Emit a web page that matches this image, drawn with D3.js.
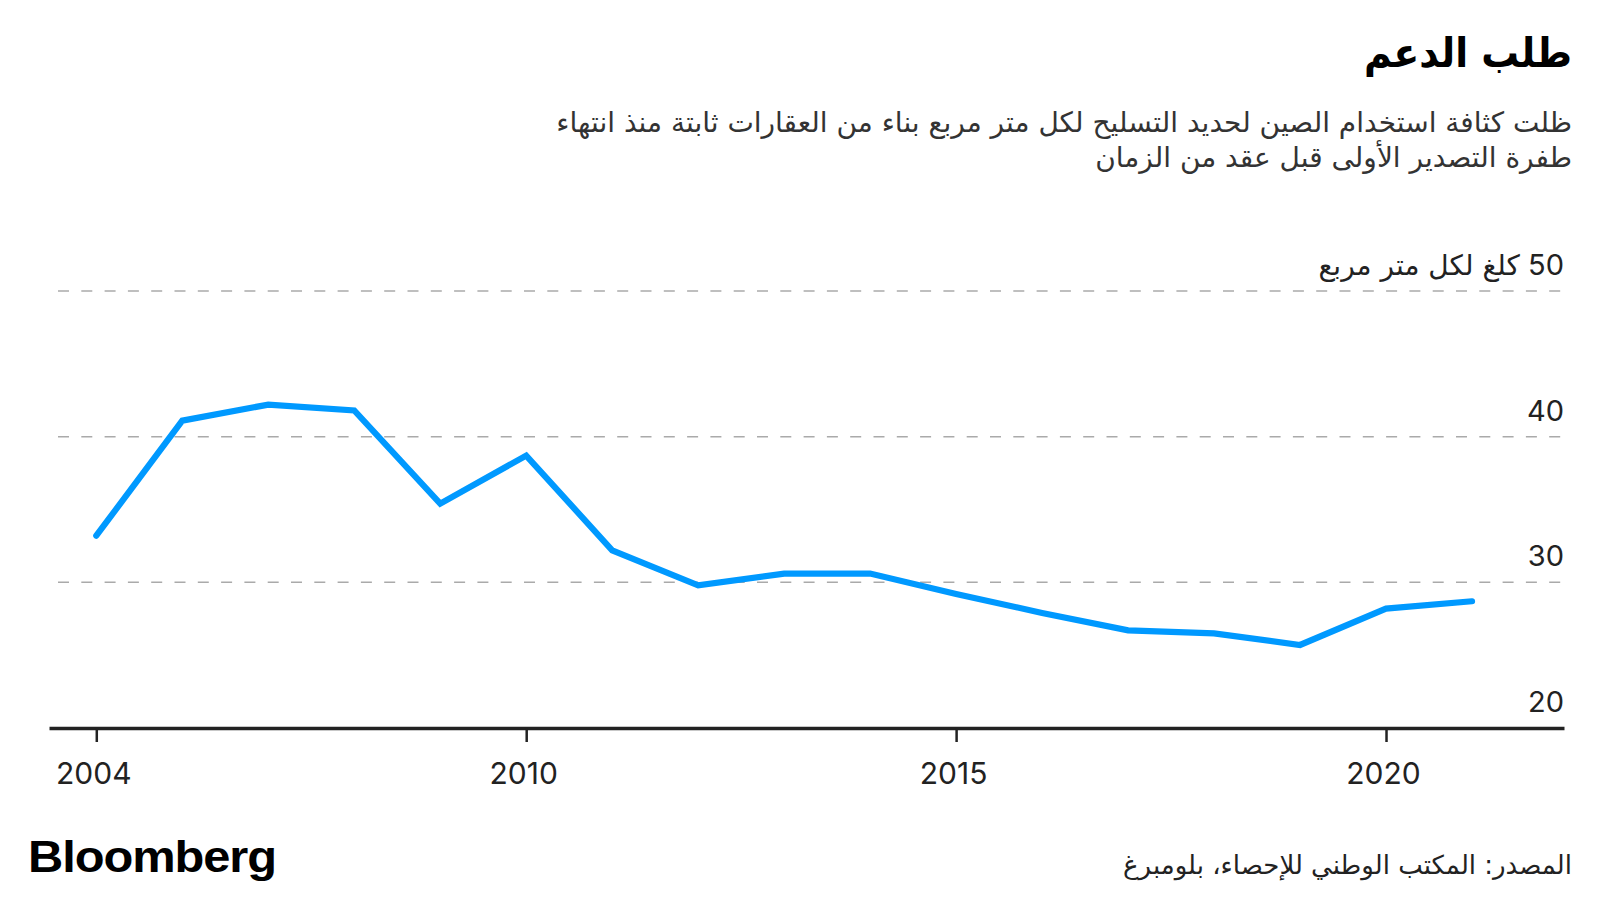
<!DOCTYPE html>
<html>
<head>
<meta charset="utf-8">
<script src="https://cdn.jsdelivr.net/npm/d3@7"></script>
<style>
  html, body { margin: 0; padding: 0; background: #fff; }
  svg { display: block; }
  .ar { font-family: "DejaVu Sans", "Noto Sans", sans-serif; }
  .num { font-family: "Inter", "Liberation Sans", sans-serif; }
</style>
</head>
<body>
<script>
// ---- data ----
const years = [2005, 2006, 2007, 2008, 2009, 2010, 2011, 2012, 2013, 2014, 2015, 2016, 2017, 2018, 2019, 2020, 2021];
const rebarKgPerSqm = [33.2, 41.1, 42.2, 41.8, 35.4, 38.7, 32.2, 29.8, 30.6, 30.6, 29.2, 27.9, 26.7, 26.5, 25.7, 28.2, 28.7];
const xTickValues = [2005, 2010, 2015, 2020];
const xTickLabels = ["2004", "2010", "2015", "2020"];
const yTickValues = [20, 30, 40, 50];
const yUnit = "كلغ لكل متر مربع";
const titleText = "طلب الدعم";
const subtitleLines = [
  "ظلت كثافة استخدام الصين لحديد التسليح لكل متر مربع بناء من العقارات ثابتة منذ انتهاء",
  "طفرة التصدير الأولى قبل عقد من الزمان"
];
const sourceText = "المصدر: المكتب الوطني للإحصاء، بلومبرغ";
const brandText = "Bloomberg";

// ---- layout ----
const W = 1600, H = 900;
const svg = d3.select("body").append("svg").attr("width", W).attr("height", H);

const x = d3.scaleLinear().domain([2004.45, 2022.07]).range([49, 1564]);
const y = d3.scaleLinear().domain([20, 50]).range([728, 291]);

// title & subtitle
svg.append("text").attr("class", "ar")
  .attr("x", 1572).attr("y", 67)
  .attr("direction", "rtl").attr("text-anchor", "start")
  .style("font-size", "41px").style("font-weight", "bold").attr("fill", "#000")
  .attr("textLength", 208).attr("lengthAdjust", "spacingAndGlyphs")
  .text(titleText);

svg.selectAll("text.sub").data(subtitleLines).join("text")
  .attr("class", "ar sub")
  .attr("x", 1572).attr("y", (d, i) => 132 + i * 35)
  .attr("direction", "rtl").attr("text-anchor", "start")
  .style("font-size", "28px").attr("fill", "#333")
  .text(d => d);

// gridlines (dashed) except baseline
svg.append("g").selectAll("line").data(yTickValues.filter(v => v !== 20)).join("line")
  .attr("x1", 58).attr("x2", 1564)
  .attr("y1", d => y(d)).attr("y2", d => y(d))
  .attr("stroke", "#aaa").attr("stroke-width", 1.5)
  .attr("stroke-dasharray", "11,12.3");

// y labels
svg.append("g").selectAll("text").data(yTickValues).join("text")
  .attr("class", "num")
  .attr("x", 1564).attr("y", d => y(d) - 16)
  .attr("direction", "rtl").attr("text-anchor", "start")
  .style("font-size", "29px").attr("fill", "#222")
  .each(function(d) {
    const t = d3.select(this);
    if (d === 50) {
      t.append("tspan").text(d + " ");
      t.append("tspan").style("font-family", "'DejaVu Sans', sans-serif").style("font-size", "28px").text(yUnit);
    } else {
      t.text(d);
    }
  });

// line
const line = d3.line().x((d, i) => x(years[i])).y(d => y(d));
svg.append("path").datum(rebarKgPerSqm)
  .attr("d", line)
  .attr("fill", "none").attr("stroke", "#0099ff").attr("stroke-width", 6.2)
  .attr("stroke-linejoin", "miter").attr("stroke-linecap", "round");

// x axis
const xAxis = d3.axisBottom(x).tickValues(xTickValues)
  .tickFormat((d, i) => xTickLabels[i]).tickSize(14).tickSizeOuter(0).tickPadding(21);
const gx = svg.append("g").attr("transform", `translate(0,${y(20)})`).call(xAxis);
gx.select(".domain").attr("stroke", "#222").attr("stroke-width", 3.5);
gx.selectAll(".tick line").attr("stroke", "#222").attr("stroke-width", 2.5);
gx.selectAll(".tick text").attr("class", "num").style("font-size", "30px").attr("fill", "#222")
  .attr("dx", -3)
  .style("font-family", "Inter, 'Liberation Sans', sans-serif");

// footer
svg.append("text").attr("x", 28).attr("y", 872)
  .style("font-family", "'Liberation Sans', Arial, sans-serif")
  .style("font-size", "45px").style("font-weight", "bold").attr("fill", "#000")
  .attr("textLength", 248).attr("lengthAdjust", "spacingAndGlyphs")
  .style("letter-spacing", "-1px")
  .text(brandText);

svg.append("text").attr("class", "ar")
  .attr("x", 1572).attr("y", 874)
  .attr("direction", "rtl").attr("text-anchor", "start")
  .style("font-size", "26px").attr("fill", "#222")
  .text(sourceText);
</script>
</body>
</html>
